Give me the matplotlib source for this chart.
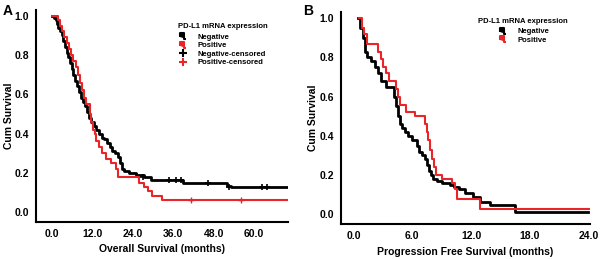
import matplotlib.pyplot as plt
from matplotlib.lines import Line2D
from matplotlib.path import Path

plt.rcParams['font.family'] = ['Liberation Sans', 'DejaVu Sans']
plt.rcParams['font.weight'] = 'bold'

# panel A: overall survival (event time, survival after the step)
os_neg_t = [0, 0.8, 1.2, 1.5, 2.0, 2.5, 3.0, 3.5, 4.0, 4.5, 5.0, 5.5, 6.0, 6.5, 7.0, 7.5,
            8.0, 8.7, 9.4, 10.0, 10.6, 11.2, 11.8, 12.6, 13.3, 14.0, 14.8, 15.6, 16.4,
            17.2, 18.0, 18.8, 19.6, 20.2, 20.8, 21.5, 23.0, 25.0, 27.5, 29.5, 39.0,
            52.0, 53.0, 70.0]
os_neg_s = [1.0, 0.99, 0.98, 0.96, 0.94, 0.92, 0.90, 0.87, 0.84, 0.81, 0.79, 0.76, 0.73,
            0.70, 0.67, 0.64, 0.61, 0.58, 0.56, 0.54, 0.51, 0.48, 0.46, 0.44, 0.42, 0.40,
            0.38, 0.37, 0.35, 0.33, 0.31, 0.30, 0.28, 0.25, 0.22, 0.21, 0.20, 0.19, 0.18,
            0.165, 0.15, 0.135, 0.13, 0.13]
os_neg_cens_t = [27.0, 34.9, 36.7, 38.3, 46.2, 52.6, 62.4, 63.9]
os_neg_cens_s = [0.18, 0.165, 0.165, 0.165, 0.15, 0.13, 0.13, 0.13]

os_pos_t = [0, 1.8, 2.5, 3.2, 3.8, 4.5, 5.2, 5.8, 6.5, 7.2, 7.8, 8.5, 9.0, 9.7, 10.3,
            11.3, 11.8, 12.2, 12.8, 13.3, 14.0, 15.0, 16.0, 17.5, 19.0, 19.8, 26.0,
            27.5, 28.5, 29.8, 32.8, 70.0]
os_pos_s = [1.0, 0.98, 0.95, 0.92, 0.89, 0.86, 0.83, 0.80, 0.77, 0.74, 0.70, 0.66, 0.62,
            0.58, 0.55, 0.50, 0.46, 0.42, 0.40, 0.36, 0.33, 0.30, 0.27, 0.25, 0.22, 0.18,
            0.15, 0.13, 0.11, 0.08, 0.06, 0.06]
os_pos_cens_t = [41.3, 56.0]
os_pos_cens_s = [0.06, 0.06]

# panel B: progression free survival
pfs_neg_t = [0.5, 0.7, 1.0, 1.2, 1.4, 1.8, 2.2, 2.5, 2.8, 3.3, 4.1, 4.3, 4.5, 4.7, 4.9,
             5.2, 5.6, 6.0, 6.5, 6.7, 7.0, 7.3, 7.5, 7.7, 7.9, 8.1, 8.5, 9.0, 9.8, 10.2,
             10.8, 11.4, 12.2, 12.9, 13.9, 16.5, 23.9]
pfs_neg_s = [1.0, 0.95, 0.90, 0.83, 0.80, 0.78, 0.75, 0.72, 0.68, 0.65, 0.60, 0.55, 0.50,
             0.46, 0.44, 0.42, 0.40, 0.38, 0.35, 0.32, 0.30, 0.28, 0.25, 0.22, 0.20, 0.18,
             0.17, 0.16, 0.15, 0.14, 0.13, 0.11, 0.09, 0.06, 0.047, 0.013, 0.013]

pfs_pos_t = [0.6, 0.9, 1.1, 1.4, 2.5, 2.8, 3.0, 3.3, 3.6, 4.3, 4.5, 4.7, 5.3, 6.3, 7.3,
             7.5, 7.6, 7.8, 8.0, 8.2, 8.4, 9.0, 10.0, 10.3, 10.6, 12.9, 24.1]
pfs_pos_s = [1.0, 0.95, 0.92, 0.87, 0.83, 0.79, 0.75, 0.72, 0.68, 0.64, 0.60, 0.56, 0.52,
             0.50, 0.46, 0.42, 0.38, 0.33, 0.28, 0.24, 0.20, 0.18, 0.16, 0.13, 0.08,
             0.027, 0.027]

NEG = "black"
POS = "#e8262a"
W, H = 600, 259  # figure size in pixels, used to place the loose texts

# little step shape used in the legend
STEP = Path([(-1, -0.2), (-1, 1), (0.2, 1), (0.2, -1), (1, -1)],
            [Path.MOVETO, Path.LINETO, Path.LINETO, Path.LINETO, Path.LINETO])


def style_axes(ax, xticks, xlim, label_x):
    ax.set_xlim(*xlim)
    ax.set_ylim(-0.05, 1.03)
    ax.set_xticks(xticks)
    ax.set_xticklabels(["%.1f" % v for v in xticks])
    ax.set_yticks([0, 0.2, 0.4, 0.6, 0.8, 1.0])
    ax.set_yticklabels(["0.0", "0.2", "0.4", "0.6", "0.8", "1.0"])
    ax.tick_params(length=0, labelsize=7.5, pad=5)
    for s in ["top", "right"]:
        ax.spines[s].set_visible(False)
    for s in ["left", "bottom"]:
        ax.spines[s].set_linewidth(1.5)
    ax.set_ylabel("Cum Survival", fontsize=7.5, fontweight="bold")
    ax.yaxis.set_label_coords(label_x, 0.5)


def add_legend(ax, handles, labels, title, tx, ty, hx, hy):
    fig.text(tx / W, 1 - ty / H, title, fontsize=5.5, fontweight="bold",
             ha="left", va="center")
    leg = ax.legend(handles, labels, loc="upper left",
                    bbox_to_anchor=(hx / W, 1 - hy / H), bbox_transform=fig.transFigure,
                    frameon=False, fontsize=5.5, handlelength=1.2, handletextpad=1.4,
                    labelspacing=0.15, borderpad=0, borderaxespad=0)
    return leg


fig = plt.figure(figsize=(6, 2.59), dpi=100)
ax1 = fig.add_axes([0.06, 0.143, 0.42, 0.819])
ax2 = fig.add_axes([0.568, 0.135, 0.415, 0.817])

# panel A
ax1.plot(os_neg_t, os_neg_s, drawstyle="steps-post", color=NEG, lw=2.0)
ax1.plot(os_pos_t, os_pos_s, drawstyle="steps-post", color=POS, lw=1.5)
ax1.plot(os_neg_cens_t, os_neg_cens_s, "+", color=NEG, ms=4, mew=1.2)
ax1.plot(os_pos_cens_t, os_pos_cens_s, "+", color=POS, ms=4, mew=1.0)
style_axes(ax1, [0, 12, 24, 36, 48, 60], (-4.6, 70), -0.088)
ax1.set_xlabel("Overall Survival (months)", fontsize=7.5, fontweight="bold", labelpad=4)

handles = [Line2D([], [], ls="none", marker=STEP, color=NEG, ms=5, mew=1.5),
           Line2D([], [], ls="none", marker=STEP, color=POS, ms=5, mew=1.5),
           Line2D([], [], ls="none", marker="+", color=NEG, ms=6, mew=1.5),
           Line2D([], [], ls="none", marker="+", color=POS, ms=6, mew=1.5)]
add_legend(ax1, handles, ["Negative", "Positive", "Negative-censored", "Positive-censored"],
           "PD-L1 mRNA expression", 178, 26.7, 178, 33.5)

# panel B
ax2.plot(pfs_neg_t, pfs_neg_s, drawstyle="steps-post", color=NEG, lw=2.0)
ax2.plot(pfs_pos_t, pfs_pos_s, drawstyle="steps-post", color=POS, lw=1.5)
style_axes(ax2, [0, 6, 12, 18, 24], (-1.3, 24.1), -0.093)
ax2.set_xlabel("Progression Free Survival (months)", fontsize=7.5, fontweight="bold",
               labelpad=4)
add_legend(ax2, handles[:2], ["Negative", "Positive"],
           "PD-L1 mRNA expression", 478, 21.7, 498, 28)

fig.text(0.004, 0.985, "A", fontsize=10, fontweight="bold", va="top")
fig.text(0.505, 0.985, "B", fontsize=10, fontweight="bold", va="top")

fig.savefig("out.png", dpi=100)
